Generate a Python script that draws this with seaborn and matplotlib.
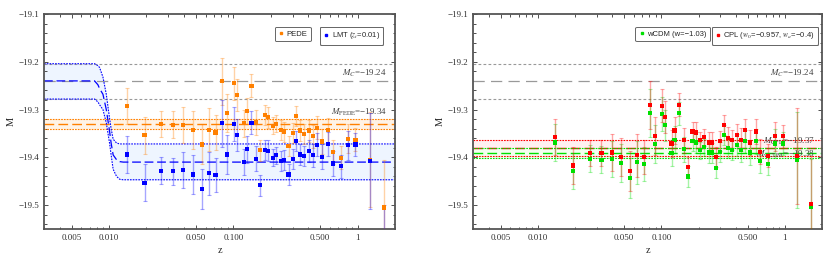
import matplotlib
matplotlib.use("Agg")
import matplotlib.pyplot as plt
import matplotlib.ticker as mticker
import seaborn as sns
import pandas as pd
import numpy as np

# binned redshifts
z = [0.0139, 0.0193, 0.0264, 0.0328, 0.0396, 0.0474, 0.0561, 0.0637, 0.0719, 0.0809,
     0.0894, 0.1006, 0.107, 0.121, 0.128, 0.140, 0.153, 0.164, 0.179, 0.191,
     0.207, 0.222, 0.242, 0.256, 0.278, 0.300, 0.320, 0.345, 0.372, 0.407,
     0.440, 0.473, 0.520, 0.580, 0.630, 0.730, 0.830, 0.960, 1.25, 1.63]
err = [0.038, 0.038, 0.028, 0.028, 0.038, 0.040, 0.042, 0.045, 0.036, 0.050,
       0.040, 0.035, 0.033, 0.028, 0.028, 0.024, 0.026, 0.022, 0.021, 0.022,
       0.018, 0.018, 0.021, 0.021, 0.021, 0.021, 0.021, 0.022, 0.021, 0.023,
       0.024, 0.024, 0.026, 0.026, 0.026, 0.024, 0.030, 0.024, 0.100, 0.100]

M_pede = [-19.293, -19.354, -19.330, -19.332, -19.332, -19.342, -19.373, -19.342, -19.348, -19.241,
          -19.308, -19.245, -19.270, -19.329, -19.303, -19.250, -19.327, -19.385, -19.312, -19.316,
          -19.334, -19.330, -19.342, -19.346, -19.377, -19.349, -19.314, -19.344, -19.352, -19.344,
          -19.356, -19.338, -19.367, -19.343, -19.389, -19.401, -19.361, -19.363, -19.405, -19.505]
M_lmt = [-19.394, -19.453, -19.428, -19.429, -19.427, -19.436, -19.466, -19.433, -19.437, -19.329,
         -19.394, -19.330, -19.353, -19.410, -19.383, -19.328, -19.403, -19.458, -19.385, -19.386,
         -19.401, -19.396, -19.407, -19.406, -19.436, -19.404, -19.366, -19.394, -19.398, -19.386,
         -19.396, -19.374, -19.399, -19.372, -19.413, -19.419, -19.375, -19.373, -19.408, -19.600]
M_cpl = [-19.357, -19.417, -19.391, -19.391, -19.390, -19.399, -19.428, -19.396, -19.399, -19.291,
         -19.356, -19.292, -19.316, -19.371, -19.344, -19.290, -19.364, -19.421, -19.346, -19.348,
         -19.364, -19.358, -19.369, -19.369, -19.400, -19.366, -19.332, -19.359, -19.364, -19.353,
         -19.363, -19.343, -19.369, -19.346, -19.388, -19.397, -19.356, -19.356, -19.397, -19.497]
M_wcdm = [-19.369, -19.428, -19.403, -19.405, -19.403, -19.412, -19.443, -19.410, -19.414, -19.307,
          -19.372, -19.309, -19.333, -19.391, -19.363, -19.308, -19.383, -19.440, -19.366, -19.369,
          -19.385, -19.379, -19.390, -19.390, -19.422, -19.389, -19.353, -19.380, -19.385, -19.375,
          -19.385, -19.366, -19.390, -19.366, -19.407, -19.414, -19.371, -19.371, -19.406, -19.503]

# Cepheid calibration band
M_C, M_C_lo, M_C_hi = -19.24, -19.278, -19.204
# model bands (mean, low, high)
pede_band = (-19.33, -19.34, -19.32)
cpl_band = (-19.380, -19.398, -19.363)
wcdm_band = (-19.391, -19.402, -19.380)

# LMT transition curve
lmt_z = [0.003, 0.00765, 0.00814, 0.0084, 0.00894, 0.00951, 0.0101, 0.0104, 0.0108, 0.0115, 0.0122, 0.0130, 2.0]
lmt_mid = [-19.240, -19.240, -19.248, -19.256, -19.268, -19.300, -19.345, -19.370, -19.395, -19.405, -19.409, -19.410, -19.410]
lmt_hi = [-19.204, -19.204, -19.208, -19.212, -19.232, -19.268, -19.318, -19.340, -19.362, -19.370, -19.372, -19.372, -19.372]
lmt_lo = [-19.278, -19.278, -19.284, -19.290, -19.300, -19.328, -19.370, -19.395, -19.425, -19.440, -19.446, -19.447, -19.447]

ORANGE = "#ff8000"
BLUE = "#0000ff"
RED = "#ff0000"
GREEN = "#00e000"
GRAY = "#999999"

sns.set_theme(style="ticks")
plt.rcParams["font.family"] = ["Liberation Serif", "DejaVu Serif"]
plt.rcParams["mathtext.fontset"] = "stix"
plt.rcParams["xtick.direction"] = "in"
plt.rcParams["ytick.direction"] = "in"

fig = plt.figure(figsize=(8.3, 2.65), dpi=100)
axL = fig.add_axes([0.053, 0.136, 0.423, 0.811])
axR = fig.add_axes([0.570, 0.136, 0.4205, 0.811])

df = pd.DataFrame({"z": z, "err": err, "PEDE": M_pede, "LMT": M_lmt, "CPL": M_cpl, "wCDM": M_wcdm})


def gray_lines(ax):
    ax.axhline(M_C_hi, color=GRAY, lw=0.8, dashes=(2.5, 2), zorder=1)
    ax.axhline(M_C_lo, color=GRAY, lw=0.8, dashes=(2.5, 2), zorder=1)
    ax.axhline(M_C, color=GRAY, lw=0.9, dashes=(9, 5), zorder=1)
    ax.text(1.72, M_C + 0.004, r"$M_C$=−19.24", ha="right", va="bottom", fontsize=6.5, color="#444444")


def band(ax, b, color, fill, mid_dash):
    mean, lo, hi = b
    ax.axhspan(lo, hi, color=fill, lw=0, zorder=0)
    ax.axhline(mean, color=color, lw=1.0, dashes=mid_dash, zorder=2)
    ax.axhline(lo, color=color, lw=0.8, dashes=(1.5, 1), zorder=2)
    ax.axhline(hi, color=color, lw=0.8, dashes=(1.5, 1), zorder=2)


def points(ax, col, color, label):
    ax.errorbar(df["z"], df[col], yerr=df["err"], fmt="none", ecolor=color, alpha=0.35,
                elinewidth=1.0, capsize=1.5, capthick=0.8, zorder=3)
    sns.scatterplot(data=df, x="z", y=col, ax=ax, color=color, marker="s", s=9,
                    edgecolor="none", zorder=4, label=label, legend=False)


def style(ax):
    ax.set_xscale("log")
    ax.set_xlim(0.003, 2.0)
    ax.set_ylim(-19.55, -19.1)
    ax.set_xticks([0.005, 0.01, 0.05, 0.1, 0.5, 1])
    ax.set_xticklabels(["0.005", "0.010", "0.050", "0.100", "0.500", "1"])
    ax.xaxis.set_minor_locator(mticker.LogLocator(base=10, subs=np.arange(2, 10) * 1.0))
    ax.xaxis.set_minor_formatter(mticker.NullFormatter())
    ax.yaxis.set_major_locator(mticker.MultipleLocator(0.1))
    ax.yaxis.set_minor_locator(mticker.MultipleLocator(0.02))
    ax.tick_params(which="both", top=True, right=True, labelsize=6.5, colors="#333333",
                   length=3, width=0.6)
    ax.tick_params(which="minor", length=1.8)
    for s in ax.spines.values():
        s.set_color("#555555")
        s.set_linewidth(1.3)
    ax.set_xlabel("z", fontsize=7.5, labelpad=3)
    ax.set_ylabel("M", fontsize=7.5, labelpad=2)


def boxed_legend(ax, color, text, anchor):
    h = plt.Line2D([], [], marker="s", ls="none", color=color, markersize=2)
    leg = ax.legend([h], [text], loc="upper right", bbox_to_anchor=anchor, borderaxespad=0,
                    frameon=True, fancybox=True, edgecolor="#666666", framealpha=1,
                    prop={"family": ["Liberation Sans", "DejaVu Sans"], "size": 5.5},
                    handletextpad=0.3, handlelength=0.8, borderpad=0.45)
    leg.get_frame().set_linewidth(0.7)
    ax.add_artist(leg)


# left panel: PEDE vs LMT
gray_lines(axL)
band(axL, pede_band, ORANGE, "#fff3e6", (7, 3))
lmt = pd.DataFrame({"z": lmt_z, "mid": lmt_mid, "hi": lmt_hi, "lo": lmt_lo})
axL.fill_between(lmt["z"], lmt["lo"], lmt["hi"], color="#eef5ff", lw=0, zorder=0)
sns.lineplot(data=lmt, x="z", y="mid", ax=axL, color=BLUE, lw=0.9, zorder=2).lines[-1].set_dashes((7, 3))
axL.plot(lmt["z"], lmt["hi"], color=BLUE, lw=0.8, dashes=(1.5, 1), zorder=2)
axL.plot(lmt["z"], lmt["lo"], color=BLUE, lw=0.8, dashes=(1.5, 1), zorder=2)
axL.text(1.72, -19.318, r"$M_{\rm PEDE}$=−19.34", ha="right", va="bottom", fontsize=6.5, color="#444444")
points(axL, "PEDE", ORANGE, "PEDE")
points(axL, "LMT", BLUE, "LMT")
style(axL)
boxed_legend(axL, ORANGE, "PEDE", (0.76, 0.94))
boxed_legend(axL, BLUE, r"LMT ($z_t$=0.01)", (0.966, 0.94))

# right panel: wCDM vs CPL
gray_lines(axR)
band(axR, cpl_band, RED, "#fff0f0", (7, 3))
band(axR, wcdm_band, GREEN, "#f3fff0", (7, 3))
axR.text(1.75, -19.378, r"$M_{\rm CPL}$=−19.37", ha="right", va="bottom", fontsize=6.5, color="#444444")
axR.text(1.75, -19.405, r"$M_{\rm wCDM}$=−19.38", ha="right", va="bottom", fontsize=6.5, color="#444444")
points(axR, "wCDM", GREEN, "wCDM")
points(axR, "CPL", RED, "CPL")
style(axR)
boxed_legend(axR, GREEN, "wCDM (w=−1.03)", (0.679, 0.94))
boxed_legend(axR, RED, r"CPL ($w_0$=−0.957, $w_a$=−0.4)", (0.989, 0.94))

fig.savefig("out.png", dpi=100)
